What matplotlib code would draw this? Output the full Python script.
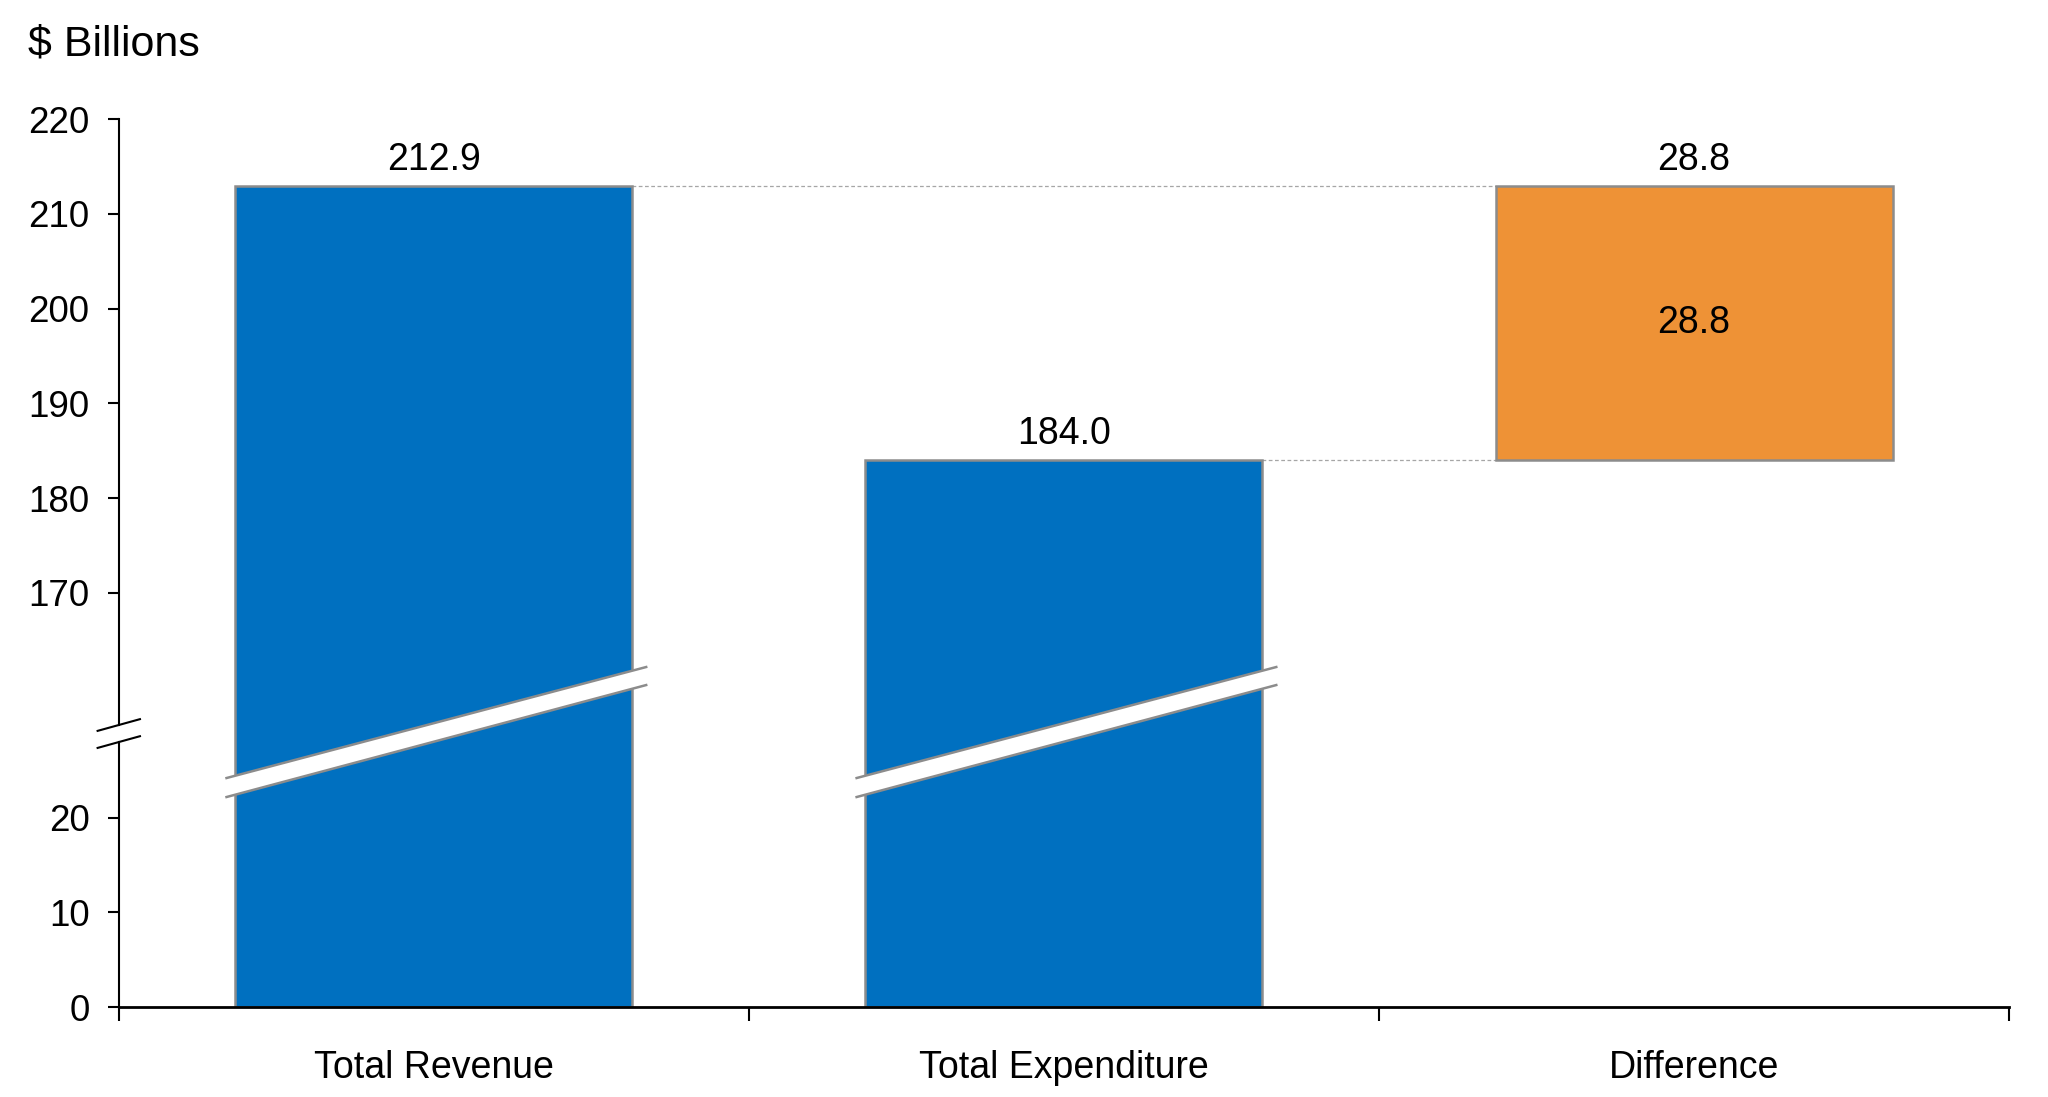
#!/usr/bin/env python3
"""========================================================================
Purpose:
    Revenue vs expenditure waterfall with a broken y axis
========================================================================"""
#=========================================================================#
# Preamble                                                                #
#=========================================================================#
import numpy as np
import matplotlib
matplotlib.use('Agg')
import matplotlib.pyplot as plt
from matplotlib import transforms
from matplotlib.patches import Polygon
#-------------------------------------------------------------------------#
# Data                                                                    #
#-------------------------------------------------------------------------#
categories  = ['Total Revenue', 'Total Expenditure', 'Difference']
revenue     = 212.9
expenditure = 184.0
difference  = 28.8
bar_tops    = [revenue, expenditure, revenue]
bar_bottoms = [0.0, 0.0, expenditure]
bar_labels  = ['212.9', '184.0', '28.8']
yticks      = [0, 10, 20, 170, 180, 190, 200, 210, 220]
#-------------------------------------------------------------------------#
# Styles                                                                  #
#-------------------------------------------------------------------------#
BLUE    = '#0070C0'
ORANGE  = '#EE9236'
EDGE    = '#8C8C8C'
FS      = 27
plt.rcParams['font.family'] = ['Liberation Sans', 'DejaVu Sans']
#-------------------------------------------------------------------------#
# Broken scale: squeeze the empty range between LO and HI                 #
#-------------------------------------------------------------------------#
LO      = 27.0
HI      = 157.0
SHIFT   = 126.3
xp      = np.array([-1.0e4, LO, HI, 1.0e4])
fp      = np.array([-1.0e4, LO, HI - SHIFT, 1.0e4 - SHIFT])

def fwd(v):
    return np.interp(v, xp, fp)

def inv(m):
    return np.interp(m, fp, xp)
#=========================================================================#
# Main                                                                    #
#=========================================================================#
fig = plt.figure(figsize=(20.48, 10.97), dpi=100)
ax  = fig.add_axes([0.058, 0.082, 0.923, 0.8095])
ax.set_yscale('function', functions=(fwd, inv))

x       = np.arange(len(categories))
width   = 0.63
heights = [t - b for t, b in zip(bar_tops, bar_bottoms)]
colors  = [BLUE, BLUE, ORANGE]
ax.bar(x, heights, width, bottom=bar_bottoms, color=colors,
       edgecolor=EDGE, linewidth=1.8, zorder=2)
#-------------------------------------------------------------------------#
# Value labels                                                            #
#-------------------------------------------------------------------------#
for xi, top, lab in zip(x, bar_tops, bar_labels):
    ax.annotate(lab, (xi, top), xytext=(0, 6), textcoords='offset points',
                ha='center', va='bottom', fontsize=FS)
ax.text(x[2], (bar_tops[2] + bar_bottoms[2]) / 2.0, '%.1f' % difference,
        ha='center', va='center', fontsize=FS, zorder=3)
#-------------------------------------------------------------------------#
# Connector lines                                                         #
#-------------------------------------------------------------------------#
ax.plot([x[0] + width / 2, x[2] - width / 2], [revenue, revenue],
        color='#A6A6A6', lw=0.9, ls=(0, (3, 2)), zorder=1)
ax.plot([x[1] + width / 2, x[2] - width / 2], [expenditure, expenditure],
        color='#A6A6A6', lw=0.9, ls=(0, (3, 2)), zorder=1)
#-------------------------------------------------------------------------#
# Break bands across the blue bars                                        #
#-------------------------------------------------------------------------#
blend = transforms.blended_transform_factory(ax.transData, ax.transAxes)
for xi in x[:2]:
    xl = xi - width / 2 - 0.014
    xr = xi + width / 2 + 0.022
    up = [0.2579, 0.3829]
    lo = [0.2365, 0.3626]
    band = Polygon([[xl, lo[0]], [xr, lo[1]], [xr, up[1]], [xl, up[0]]],
                   closed=True, facecolor='white', edgecolor='none',
                   transform=blend, zorder=4)
    ax.add_patch(band)
    ax.plot([xl, xr], up, color=EDGE, lw=1.8, transform=blend, zorder=5)
    ax.plot([xl, xr], lo, color=EDGE, lw=1.8, transform=blend, zorder=5)
#-------------------------------------------------------------------------#
# Axes settings                                                           #
#-------------------------------------------------------------------------#
ax.set_xlim(-0.5, 2.5)
ax.set_ylim(0, 220)
ax.set_yticks(yticks)
ax.set_yticklabels([str(t) for t in yticks])
ax.set_xticks([-0.5, 0.5, 1.5, 2.5])
ax.set_xticklabels([])
ax.set_xticks(x, minor=True)
ax.set_xticklabels(categories, minor=True)
ax.tick_params(axis='x', which='major', direction='out', length=10,
               width=1.5)
ax.tick_params(axis='x', which='minor', length=0, pad=31, labelsize=FS)
ax.tick_params(axis='y', direction='out', length=8, width=1.5, pad=13,
               labelsize=26.5)
for side in ['top', 'right', 'left']:
    ax.spines[side].set_visible(False)
ax.spines['bottom'].set_linewidth(2.0)
#-------------------------------------------------------------------------#
# Broken left spine                                                       #
#-------------------------------------------------------------------------#
ax_y = transforms.blended_transform_factory(ax.transAxes, ax.transAxes)
y_low, y_high = 0.2984, 0.3176
ax.plot([0, 0], [0, y_low], color='black', lw=1.5, transform=ax_y,
        clip_on=False)
ax.plot([0, 0], [y_high, 1], color='black', lw=1.5, transform=ax_y,
        clip_on=False)
dx, dy = 0.0112, 0.0066
for yc in (y_low, y_high):
    ax.plot([-dx, dx], [yc - dy, yc + dy], color='black', lw=1.5,
            transform=ax_y, clip_on=False)
#-------------------------------------------------------------------------#
# Unit label                                                              #
#-------------------------------------------------------------------------#
fig.text(28 / 2048, 1 - 55 / 1097, '$ Billions', fontsize=31,
         ha='left', va='baseline')

fig.savefig('out.png', dpi=100)
